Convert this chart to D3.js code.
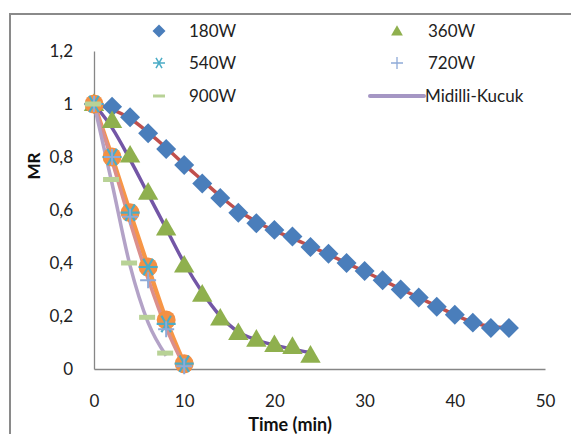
<!DOCTYPE html>
<html lang="en">
<head>
  <meta charset="UTF-8">
  <title>MR vs time</title>
  <style>
    html, body { margin: 0; padding: 0; background: #fff; }
    svg { display: block; font-family: Lato, 'Open Sans', sans-serif; }
  </style>
  <script src="https://cdn.jsdelivr.net/npm/d3@7"></script>
</head>
<body>
  <svg id="chart" width="571" height="434"></svg>
  <script>
    // data
    var t180 = d3.range(0, 47, 2)
    var mr180 = [1, .99, .95, .89, .83, .77, .70, .645, .59, .55, .525, .50, .46, .435, .40, .37, .335, .30, .27, .235, .205, .175, .155, .155]
    var fit180 = [1, .98, .945, .893, .835, .772, .712, .652, .598, .556, .522, .494, .463, .432, .40, .368, .335, .302, .27, .237, .205, .176, .16, .155]
    var t360 = d3.range(0, 25, 2)
    var mr360 = [1, .935, .805, .665, .53, .39, .28, .19, .135, .11, .09, .083, .05]
    var fit360 = [1, .91, .79, .66, .53, .40, .29, .20, .14, .11, .09, .075, .062]
    var t540 = [0, 2, 4, 6, 8, 10]
    var mr540 = [1, .80, .59, .385, .17, .02]
    var fit540 = [1, .80, .59, .385, .185, .02]
    var mr720 = [1, .80, .575, .335, .15, .01]
    var fit720 = [1, .785, .555, .34, .155, .01]
    var t900 = [0, 2, 4, 6, 8]
    var mr900 = [1, .715, .40, .195, .06]
    var fit900 = [1, .70, .39, .175, .05]
    var xTicks = [0, 10, 20, 30, 40, 50]
    var yTicks = [0, .2, .4, .6, .8, 1, 1.2]

    var svg = d3.select('#chart')
    var x = d3.scaleLinear().domain([0, 50]).range([94, 545])
    var y = d3.scaleLinear().domain([0, 1.2]).range([369, 51])
    var axisColor = '#868686'
    var fmt = function (d) { return d3.format('~g')(+d.toFixed(1)).replace('.', ',') }

    // outer chart border
    svg.append('rect').attr('x', 10).attr('y', 14).attr('width', 570).attr('height', 430)
      .attr('fill', 'none').attr('stroke', '#8a8a8a').attr('stroke-width', 2)

    // axes
    var xAxis = svg.append('g').attr('transform', 'translate(0,' + y(0) + ')')
      .call(d3.axisBottom(x).tickValues(xTicks).tickSize(0).tickPadding(26).tickFormat(fmt))
    var yAxis = svg.append('g').attr('transform', 'translate(' + x(0) + ',0)')
      .call(d3.axisLeft(y).tickValues(yTicks).tickSize(0).tickPadding(21).tickFormat(fmt))
    ;[xAxis, yAxis].forEach(function (a) {
      a.select('.domain').attr('stroke', axisColor).attr('stroke-width', 1.3)
      a.selectAll('text').attr('font-size', 17).attr('fill', '#222')
        .attr('font-family', 'Lato, sans-serif')
    })

    svg.append('text').attr('x', 290).attr('y', 431).attr('text-anchor', 'middle')
      .attr('font-size', 18).attr('font-weight', 'bold').attr('fill', '#111').text('Time (min)')
    svg.append('text').attr('transform', 'translate(40,166) rotate(-90)').attr('text-anchor', 'middle')
      .attr('font-size', 17).attr('font-weight', 'bold').attr('fill', '#111').text('MR')

    // fit lines (Midilli-Kucuk)
    var line = d3.line().x(function (d) { return x(d[0]) }).y(function (d) { return y(d[1]) })
      .curve(d3.curveMonotoneX)
    var fits = [
      [t180, fit180, '#c0504d', 3.5],
      [t360, fit360, '#7356a6', 3.5],
      [t540, fit540, '#f79646', 4.5],
      [t540, fit720, '#db8f8c', 3.5],
      [t900, fit900, '#b3a2c7', 3.5]
    ]
    fits.forEach(function (f) {
      svg.append('path').datum(d3.zip(f[0], f[1])).attr('d', line)
        .attr('fill', 'none').attr('stroke', f[2]).attr('stroke-width', f[3])
    })

    // markers
    function pts(ts, vs) { return d3.zip(ts, vs) }
    function tr(d) { return 'translate(' + x(d[0]) + ',' + y(d[1]) + ')' }

    svg.append('g').selectAll('path').data(pts(t180, mr180)).join('path')
      .attr('d', d3.symbol(d3.symbolSquare, 200)())
      .attr('transform', function (d) { return tr(d) + ' rotate(45)' })
      .attr('fill', '#4a7ebb')

    svg.append('g').selectAll('path').data(pts(t360, mr360)).join('path')
      .attr('transform', function (d) { return tr(d) + ' translate(0,1)' })
      .attr('d', d3.symbol(d3.symbolTriangle, 180)()).attr('fill', '#8fb04e')

    // orange circles of the 540W fit
    svg.append('g').selectAll('circle').data(pts(t540, fit540)).join('circle')
      .attr('cx', function (d) { return x(d[0]) }).attr('cy', function (d) { return y(d[1]) })
      .attr('r', 9.5).attr('fill', '#f39044')

    function asterisk(g, s) {
      g.append('path').attr('d', 'M' + -s + ',0H' + s + 'M' + (-s / 2) + ',' + (-s * .87) + 'L' + (s / 2) + ',' + (s * .87) +
        'M' + (s / 2) + ',' + (-s * .87) + 'L' + (-s / 2) + ',' + (s * .87))
    }
    svg.append('g').attr('stroke', '#4bacc6').attr('stroke-width', 2.2).attr('fill', 'none')
      .selectAll('g').data(pts(t540, mr540)).join('g').attr('transform', tr)
      .each(function () { asterisk(d3.select(this), 9.5) })

    svg.append('g').attr('stroke', '#8eaad8').attr('stroke-width', 2).attr('fill', 'none')
      .selectAll('path').data(pts(t540, mr720)).join('path').attr('transform', tr)
      .attr('d', 'M-8,0H8M0,-8V8')

    svg.append('g').attr('stroke', '#b8d296').attr('stroke-width', 5).attr('fill', 'none')
      .selectAll('path').data(pts(t900, mr900)).join('path')
      .attr('transform', function (d) { return tr(d) + ' translate(-1,0)' })
      .attr('d', 'M-8,0H8')

    // legend
    var lg = svg.append('g').attr('font-size', 17).attr('fill', '#222')
    function label(px, py, txt) {
      lg.append('text').attr('x', px).attr('y', py).attr('dy', '0.35em').text(txt)
    }
    lg.append('path').attr('transform', 'translate(159,31) rotate(45)')
      .attr('d', d3.symbol(d3.symbolSquare, 85)()).attr('fill', '#4a7ebb')
    label(189, 31, '180W')
    lg.append('path').attr('transform', 'translate(397,32)')
      .attr('d', d3.symbol(d3.symbolTriangle, 60)()).attr('fill', '#8fb04e')
    label(428, 31, '360W')
    var la = lg.append('g').attr('transform', 'translate(159,63)').attr('stroke', '#4bacc6')
      .attr('stroke-width', 1.5).attr('fill', 'none')
    asterisk(la, 6)
    label(189, 63, '540W')
    lg.append('path').attr('transform', 'translate(397,63)').attr('d', 'M-6,0H6M0,-6V6')
      .attr('stroke', '#8eaad8').attr('stroke-width', 1.3)
    label(428, 63, '720W')
    lg.append('path').attr('transform', 'translate(159,96)').attr('d', 'M-6,0H6')
      .attr('stroke', '#b8d296').attr('stroke-width', 3)
    label(189, 96, '900W')
    lg.append('path').attr('d', 'M370,96H424').attr('stroke', '#a596c4').attr('stroke-width', 4)
      .attr('stroke-linecap', 'round')
    label(425, 96, 'Midilli-Kucuk')
  </script>
</body>
</html>
